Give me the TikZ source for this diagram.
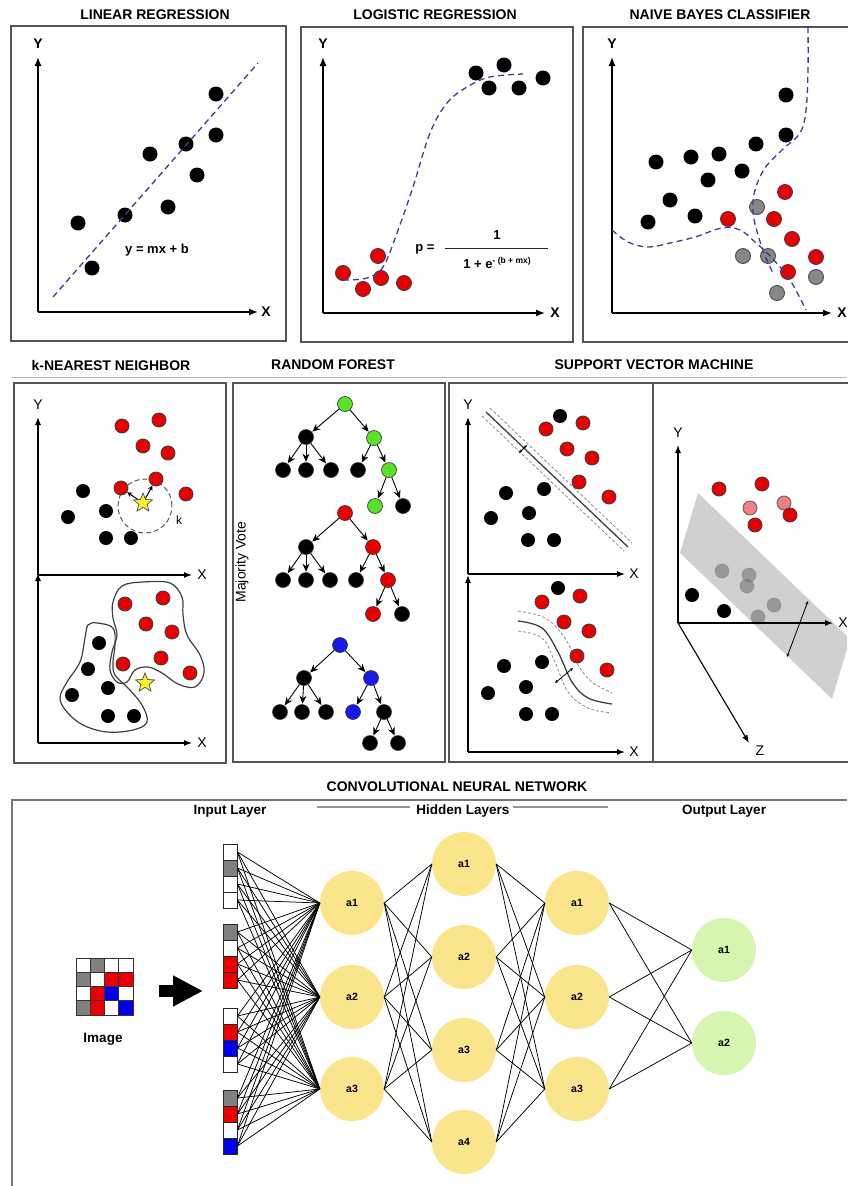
\documentclass[tikz,border=0pt]{standalone}
\usepackage{fontspec}
\setmainfont{Liberation Sans}
\usetikzlibrary{arrows.meta,shapes.geometric}

\definecolor{fitblue}{RGB}{62,62,150}
\definecolor{dotred}{RGB}{232,0,0}
\definecolor{dotgray}{RGB}{135,135,135}
\definecolor{framegray}{RGB}{85,85,85}
\definecolor{rulegray}{RGB}{150,150,150}
\definecolor{leafgreen}{RGB}{90,225,40}
\definecolor{treeblue}{RGB}{25,25,235}
\definecolor{softred}{RGB}{240,128,128}
\definecolor{planegray}{RGB}{200,200,200}
\definecolor{unityellow}{RGB}{250,228,140}
\definecolor{unitgreen}{RGB}{214,245,176}
\definecolor{starfill}{RGB}{250,240,40}
\definecolor{pixw}{RGB}{255,255,255}
\definecolor{pixg}{RGB}{128,128,128}
\definecolor{pixr}{RGB}{235,0,0}
\definecolor{pixb}{RGB}{0,0,235}

\tikzset{
  panel/.style={draw=framegray, line width=1.3pt},
  heading/.style={font=\fontsize{14}{16}\selectfont\bfseries},
  subheading/.style={font=\fontsize{13.5}{15}\selectfont\bfseries},
  axis/.style={line width=1.3pt, -{Latex[length=9pt,width=7pt]}},
  thinaxis/.style={line width=1.1pt, -{Latex[length=8pt,width=6pt]}},
  axlab/.style={font=\fontsize{14}{16}\selectfont\bfseries, inner sep=0pt},
  axlabthin/.style={font=\fontsize{14}{16}\selectfont, inner sep=0pt},
  eqn/.style={font=\fontsize{13}{15}\selectfont\bfseries, inner sep=0pt},
  bdot/.style={circle, inner sep=0pt, minimum size=15pt, fill=black},
  rdot/.style={circle, inner sep=0pt, minimum size=15pt, fill=dotred, draw=black!75, line width=0.9pt},
  gdot/.style={circle, inner sep=0pt, minimum size=15pt, fill=dotgray, draw=black!70, line width=0.9pt},
  pdot/.style={circle, inner sep=0pt, minimum size=14pt, fill=softred, draw=black!60, line width=0.9pt},
  hdot/.style={circle, inner sep=0pt, minimum size=14pt, fill=black!55, draw=black!45, line width=0.8pt, opacity=0.6},
  smalldot/.style={minimum size=14pt},
  fitcurve/.style={draw=fitblue, line width=1.3pt, dash pattern=on 6pt off 4pt},
  blob/.style={draw=black!75, line width=1.2pt},
  tnode/.style={circle, inner sep=0pt, minimum size=15pt, draw=black!80, line width=0.6pt},
  tedge/.style={line width=0.9pt, -{Stealth[length=8pt,width=7pt]}, shorten >=0.5pt},
  margin/.style={draw=black!75, line width=1.3pt},
  marginedge/.style={draw=black!45, line width=0.8pt, dash pattern=on 3pt off 2pt},
  tinyarrows/.style={line width=0.8pt, {Stealth[length=3.5pt,width=3pt]}-{Stealth[length=3.5pt,width=3pt]}},
  star5/.style={star, star points=5, star point ratio=2.3, fill=starfill, draw=black!70, line width=0.7pt, minimum size=20pt, inner sep=0pt},
  pix/.style={draw=black!80, line width=0.7pt, minimum width=14.25pt, minimum height=14.25pt, inner sep=0pt},
  incell/.style={draw=black!85, line width=0.8pt, minimum width=14pt, minimum height=16pt, inner sep=0pt},
  unit/.style={circle, fill=unityellow, minimum size=64pt, inner sep=0pt, font=\fontsize{10.5}{12}\selectfont\bfseries},
  outunit/.style={circle, fill=unitgreen, minimum size=64pt, inner sep=0pt, font=\fontsize{10.5}{12}\selectfont\bfseries},
  link/.style={draw=black, line width=0.75pt},
}

\begin{document}
\begin{tikzpicture}[x=1pt,y=-1pt]
\path[use as bounding box, fill=white] (0,0) rectangle (847,1186);

% ================= LINEAR REGRESSION =================
\node[heading] (lin-title) at (155,15) {LINEAR REGRESSION};
\draw[panel] (11,26) rectangle (286,341);
\coordinate (lin-o) at (38,312);
\coordinate (lin-yt) at (38,57);
\coordinate (lin-xt) at (258,312);
\draw[axis] (lin-o) -- (lin-yt);
\draw[axis] (lin-o) -- (lin-xt);
\node[axlab] (lin-Y) at (38,44) {Y};
\node[axlab] (lin-X) at (266,312) {X};
\foreach \x/\y [count=\i] in {216/94,216/135,186/144,150/154,197/175,168/207,125/215,78/223,92/268}
  \node[bdot] (lin\i) at (\x,\y) {};
\coordinate (lin-fa) at (53,297);
\coordinate (lin-fb) at (258,63);
\draw[fitcurve] (lin-fa) -- (lin-fb);
\node[eqn] (lin-eq) at (157,250) {y = mx + b};

% ================= LOGISTIC REGRESSION =================
\node[heading] (log-title) at (435,15) {LOGISTIC REGRESSION};
\draw[panel] (301,27) rectangle (573,342);
\coordinate (log-o) at (323,313);
\coordinate (log-yt) at (323,57);
\coordinate (log-xt) at (545,313);
\draw[axis] (log-o) -- (log-yt);
\draw[axis] (log-o) -- (log-xt);
\node[axlab] (log-Y) at (323,44) {Y};
\node[axlab] (log-X) at (555,313) {X};
\foreach \x/\y [count=\i] in {343/273,378/256,363/289,381/278,404/283}
  \node[rdot] (logr\i) at (\x,\y) {};
\foreach \x/\y [count=\i] in {476/73,504/65,489/88,519/88,543/78}
  \node[bdot] (logb\i) at (\x,\y) {};
\draw[fitcurve] plot[smooth, tension=0.6] coordinates
  {(343,280) (367,278) (383,267) (397,233) (413,187) (430,133) (447,103) (467,87) (490,77) (523,74)};
\node[eqn] (log-p) at (425,249) {p =};
\coordinate (log-bl) at (445,248);
\coordinate (log-br) at (548,248);
\draw[line width=1pt, black!85] (log-bl) -- (log-br);
\node[eqn] (log-num) at (497,235) {1};
\node[eqn] (log-den) at (497,263) {1 + e\raisebox{5pt}{\fontsize{8.5}{10}\selectfont - (b + mx)}};

% ================= NAIVE BAYES =================
\node[heading] (nb-title) at (720,15) {NAIVE BAYES CLASSIFIER};
\draw[panel] (583,27) rectangle (852,342);
\coordinate (nb-o) at (612,313);
\coordinate (nb-yt) at (612,57);
\coordinate (nb-xt) at (832,313);
\draw[axis] (nb-o) -- (nb-yt);
\draw[axis] (nb-o) -- (nb-xt);
\node[axlab] (nb-Y) at (612,44) {Y};
\node[axlab] (nb-X) at (842,313) {X};
\foreach \x/\y [count=\i] in {786/95,786/135,756/144,719/154,691/157,656/162,708/180,742/171,670/200,695/216,648/222}
  \node[bdot] (nbb\i) at (\x,\y) {};
\foreach \x/\y [count=\i] in {785/192,728/219,774/219,792/239,816/257,788/272}
  \node[rdot] (nbr\i) at (\x,\y) {};
\foreach \x/\y [count=\i] in {757/207,743/256,768/256,816/277,777/293}
  \node[gdot] (nbg\i) at (\x,\y) {};
\draw[fitcurve] plot[smooth, tension=0.6] coordinates
  {(612,230) (628,242) (648,247) (670,243) (695,237) (722,228) (740,230) (755,242) (772,258) (790,280) (806,310)};
\draw[fitcurve] plot[smooth, tension=0.6] coordinates
  {(808,27) (808,70) (806,110) (800,133) (782,150) (765,168) (755,190) (753,212) (758,235) (766,258) (774,275)};

% ================= ROW 2 HEADINGS =================
\node[heading] (knn-title) at (111,365) {k-NEAREST NEIGHBOR};
\node[heading] (rf-title) at (333,365) {RANDOM FOREST};
\node[heading] (svm-title) at (654,365) {SUPPORT VECTOR MACHINE};
\draw[rulegray!70, line width=1pt] (12,377) -- (847,377);

% ================= k-NEAREST NEIGHBOR =================
\draw[panel] (14,383) rectangle (226,763);
\coordinate (knn-o1) at (38,575);
\coordinate (knn-y1) at (38,417);
\coordinate (knn-x1) at (192,575);
\coordinate (knn-o2) at (38,743);
\coordinate (knn-y2) at (38,573);
\coordinate (knn-x2) at (192,743);
\draw[thinaxis] (knn-o1) -- (knn-y1);
\draw[thinaxis] (knn-o1) -- (knn-x1);
\draw[thinaxis] (knn-o2) -- (knn-y2);
\draw[thinaxis] (knn-o2) -- (knn-x2);
\node[axlabthin] (knn-Y1) at (38,405) {Y};
\node[axlabthin] (knn-X1) at (202,575) {X};
\node[axlabthin] (knn-X2) at (202,743) {X};
% upper plot
\node[circle, draw=black!65, line width=1pt, dash pattern=on 5pt off 3pt, minimum size=54pt] (knn-k) at (145,506) {};
\node[font=\fontsize{12}{14}\selectfont, inner sep=0pt] (knn-klab) at (179,520) {k};
\foreach \x/\y [count=\i] in {122/426,159/420,143/446,168/453,156/479,121/488,186/494}
  \node[rdot, smalldot] (knnr\i) at (\x,\y) {};
\foreach \x/\y [count=\i] in {83/491,68/517,106/511,106/538,131/538}
  \node[bdot, smalldot] (knnb\i) at (\x,\y) {};
\node[star5] (knn-q1) at (143,503) {};
\draw[line width=1pt, -{Stealth[length=5pt,width=5pt]}] (knn-q1) -- (knnr6);
\draw[line width=1pt, -{Stealth[length=5pt,width=5pt]}] (knn-q1) -- (knnr5);
% lower plot
\draw[blob] plot[smooth cycle, tension=0.6] coordinates
  {(113,602) (122,586) (143,582) (170,583) (182,597) (183,615) (187,635) (200,655) (204,673) (195,687) (178,684) (162,673) (148,667) (135,670) (127,682) (117,682) (110,670) (112,652) (117,635) (113,618)};
\draw[blob] plot[smooth cycle, tension=0.6] coordinates
  {(97,623) (113,628) (115,645) (113,662) (115,675) (128,688) (142,705) (147,722) (133,730) (107,732) (83,725) (67,712) (60,698) (67,682) (80,662) (85,638) (88,625)};
\foreach \x/\y [count=\i] in {125/604,163/598,146/624,172/632,161/658,123/664,190/673}
  \node[rdot, smalldot] (knnlr\i) at (\x,\y) {};
\foreach \x/\y [count=\i] in {99/643,88/669,108/688,72/695,108/716,134/716}
  \node[bdot, smalldot] (knnlb\i) at (\x,\y) {};
\node[star5] (knn-q2) at (145,683) {};

% ================= RANDOM FOREST =================
\draw[panel] (233,383) rectangle (445,762);
\node[font=\fontsize{14}{16}\selectfont, rotate=90, inner sep=0pt] (rf-vote) at (242,562) {Majority Vote};
% tree one
\node[tnode, fill=leafgreen] (A0) at (345,404) {};
\node[tnode, fill=black] (A1) at (306,437) {};
\node[tnode, fill=leafgreen] (A2) at (374,438) {};
\node[tnode, fill=black] (A3) at (283,470) {};
\node[tnode, fill=black] (A4) at (306,470) {};
\node[tnode, fill=black] (A5) at (331,470) {};
\node[tnode, fill=black] (A6) at (358,470) {};
\node[tnode, fill=leafgreen] (A7) at (389,470) {};
\node[tnode, fill=leafgreen] (A8) at (375,506) {};
\node[tnode, fill=black] (A9) at (403,506) {};
% tree two
\node[tnode, fill=dotred] (B0) at (345,513) {};
\node[tnode, fill=black] (B1) at (306,547) {};
\node[tnode, fill=dotred] (B2) at (373,547) {};
\node[tnode, fill=black] (B3) at (283,580) {};
\node[tnode, fill=black] (B4) at (306,580) {};
\node[tnode, fill=black] (B5) at (330,580) {};
\node[tnode, fill=black] (B6) at (356,580) {};
\node[tnode, fill=dotred] (B7) at (388,580) {};
\node[tnode, fill=dotred] (B8) at (373,614) {};
\node[tnode, fill=black] (B9) at (402,614) {};
% tree three
\node[tnode, fill=treeblue] (C0) at (340,645) {};
\node[tnode, fill=black] (C1) at (304,678) {};
\node[tnode, fill=treeblue] (C2) at (371,678) {};
\node[tnode, fill=black] (C3) at (280,712) {};
\node[tnode, fill=black] (C4) at (302,712) {};
\node[tnode, fill=black] (C5) at (326,712) {};
\node[tnode, fill=treeblue] (C6) at (353,712) {};
\node[tnode, fill=black] (C7) at (384,712) {};
\node[tnode, fill=black] (C8) at (370,743) {};
\node[tnode, fill=black] (C9) at (398,743) {};
\foreach \t in {A,B,C} {
  \draw[tedge] (\t0) -- (\t1);
  \draw[tedge] (\t0) -- (\t2);
  \draw[tedge] (\t1) -- (\t3);
  \draw[tedge] (\t1) -- (\t4);
  \draw[tedge] (\t1) -- (\t5);
  \draw[tedge] (\t2) -- (\t6);
  \draw[tedge] (\t2) -- (\t7);
  \draw[tedge] (\t7) -- (\t8);
  \draw[tedge] (\t7) -- (\t9);
}

% ================= SUPPORT VECTOR MACHINE =================
\draw[panel] (449,383) rectangle (852,762);
\draw[panel] (653,383) -- (653,762);
\coordinate (svm-o1) at (468,574);
\coordinate (svm-y1) at (468,417);
\coordinate (svm-x1) at (625,574);
\coordinate (svm-o2) at (468,752);
\coordinate (svm-y2) at (468,575);
\coordinate (svm-x2) at (625,752);
\draw[thinaxis] (svm-o1) -- (svm-y1);
\draw[thinaxis] (svm-o1) -- (svm-x1);
\draw[thinaxis] (svm-o2) -- (svm-y2);
\draw[thinaxis] (svm-o2) -- (svm-x2);
\node[axlabthin] (svm-Y1) at (468,405) {Y};
\node[axlabthin] (svm-X1) at (634,574) {X};
\node[axlabthin] (svm-X2) at (634,752) {X};
% linear margin
\draw[marginedge] (490,408) -- (632,543);
\draw[marginedge] (482,416) -- (624,551);
\draw[margin] (486,412) -- (628,547);
\coordinate (svm-ma) at (519,453);
\coordinate (svm-mb) at (527,445);
\draw[tinyarrows] (svm-ma) -- (svm-mb);
\foreach \x/\y [count=\i] in {560/416,506/493,544/489,491/518,529/513,528/540,554/540}
  \node[bdot, smalldot] (svmb\i) at (\x,\y) {};
\foreach \x/\y [count=\i] in {546/429,583/423,567/449,592/458,579/482,609/497}
  \node[rdot, smalldot] (svmr\i) at (\x,\y) {};
% curved margin
\draw[marginedge] plot[smooth, tension=0.6] coordinates {(518,611) (545,618) (565,638) (578,665) (592,682) (612,693)};
\draw[marginedge] plot[smooth, tension=0.6] coordinates {(518,631) (542,638) (555,662) (568,692) (588,708) (612,713)};
\draw[margin] plot[smooth, tension=0.6] coordinates {(518,621) (542,628) (558,652) (572,682) (588,698) (612,704)};
\coordinate (svm-ca) at (555,683);
\coordinate (svm-cb) at (573,668);
\draw[tinyarrows] (svm-ca) -- (svm-cb);
\foreach \x/\y [count=\i] in {558/588,504/666,542/662,488/693,526/687,526/714,552/714}
  \node[bdot, smalldot] (svmlb\i) at (\x,\y) {};
\foreach \x/\y [count=\i] in {542/602,580/596,564/622,589/631,577/656,607/670}
  \node[rdot, smalldot] (svmlr\i) at (\x,\y) {};
% three-dimensional view
\fill[planegray, opacity=0.85] (698,493) -- (847,636) -- (847,649) -- (832,699) -- (680,553) -- cycle;
\foreach \x/\y [count=\i] in {722/571,749/575,747/586,774/605,758/617}
  \node[hdot] (svmh\i) at (\x,\y) {};
\coordinate (svm-o3) at (678,623);
\coordinate (svm-y3) at (678,445);
\coordinate (svm-x3) at (833,623);
\coordinate (svm-z3) at (749,743);
\draw[thinaxis] (svm-o3) -- (svm-y3);
\draw[thinaxis] (svm-o3) -- (svm-x3);
\draw[thinaxis] (svm-o3) -- (svm-z3);
\node[axlabthin] (svm-Y3) at (678,433) {Y};
\node[axlabthin] (svm-X3) at (843,623) {X};
\node[axlabthin] (svm-Z3) at (760,751) {Z};
\node[pdot] (svmp1) at (750,508) {};
\node[pdot] (svmp2) at (784,503) {};
\foreach \x/\y [count=\i] in {719/489,762/484,790/515,755/525}
  \node[rdot, smalldot] (svmur\i) at (\x,\y) {};
\foreach \x/\y [count=\i] in {692/595,724/611}
  \node[bdot, smalldot] (svmub\i) at (\x,\y) {};
\coordinate (svm-pa) at (808,601);
\coordinate (svm-pb) at (787,657);
\draw[tinyarrows] (svm-pa) -- (svm-pb);

% ================= CONVOLUTIONAL NEURAL NETWORK =================
\node[heading] (cnn-title) at (457,787) {CONVOLUTIONAL NEURAL NETWORK};
\draw[framegray!80, line width=1.5pt] (847,800) -- (12,800) -- (12,1186);
\node[subheading] (cnn-in) at (230,811) {Input Layer};
\node[subheading] (cnn-hid) at (463,811) {Hidden Layers};
\node[subheading] (cnn-out) at (724,811) {Output Layer};
\draw[rulegray, line width=2pt] (317,807) -- (410,807);
\draw[rulegray, line width=2pt] (513,807) -- (608,807);

% image pixels
\foreach \row [count=\r] in {{w,g,w,w},{g,w,r,r},{w,r,b,w},{g,r,w,b}}
  \foreach \c [count=\k] in \row
    \node[pix, fill=pix\c] (im\r\k) at ({76+14.25*(\k-0.5)},{958+14.25*(\r-0.5)}) {};
\node[subheading] (cnn-img) at (103,1039) {Image};
\coordinate (feed-a) at (159,991);
\coordinate (feed-b) at (203,991);
\draw[line width=12pt, -{Triangle[length=30pt,width=29pt]}] (feed-a) -- (feed-b);

% input column
\foreach \grp/\top [count=\g from 0] in {{w,g,w,w}/844,{g,w,r,r}/924,{w,r,b,w}/1008,{g,r,w,b}/1090}
  \foreach \c [count=\k] in \grp {
    \pgfmathtruncatemacro\n{4*\g+\k}
    \node[incell, fill=pix\c] (in\n) at (230,{\top+16*(\k-0.5)}) {};
  }

% units
\node[unit] (h1-1) at (352,903) {a1};
\node[unit] (h1-2) at (352,997) {a2};
\node[unit] (h1-3) at (352,1089) {a3};
\node[unit] (h2-1) at (464,864) {a1};
\node[unit] (h2-2) at (464,957) {a2};
\node[unit] (h2-3) at (464,1050) {a3};
\node[unit] (h2-4) at (464,1142) {a4};
\node[unit] (h3-1) at (577,903) {a1};
\node[unit] (h3-2) at (577,997) {a2};
\node[unit] (h3-3) at (577,1089) {a3};
\node[outunit] (o-1) at (724,950) {a1};
\node[outunit] (o-2) at (724,1043) {a2};

% weights
\foreach \i in {1,...,16}
  \foreach \j in {1,2,3}
    \draw[link] (in\i.east) -- (h1-\j.west);
\foreach \i in {1,2,3}
  \foreach \j in {1,2,3,4}
    \draw[link] (h1-\i.east) -- (h2-\j.west);
\foreach \i in {1,2,3,4}
  \foreach \j in {1,2,3}
    \draw[link] (h2-\i.east) -- (h3-\j.west);
\foreach \i in {1,2,3}
  \foreach \j in {1,2}
    \draw[link] (h3-\i.east) -- (o-\j.west);
\end{tikzpicture}
\end{document}
